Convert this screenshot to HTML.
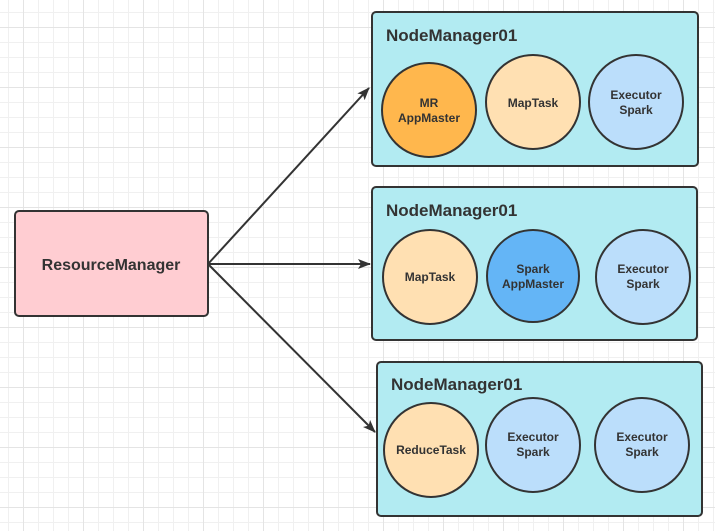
<!DOCTYPE html>
<html><head><style>
body{margin:0;width:715px;height:531px;overflow:hidden;background:#fff;
background-image:linear-gradient(#e4e4e4 1px,transparent 1px),linear-gradient(90deg,#e4e4e4 1px,transparent 1px),linear-gradient(#f0f0f0 1px,transparent 1px),linear-gradient(90deg,#f0f0f0 1px,transparent 1px);
background-size:60px 60px,60px 60px,15px 15px,15px 15px;background-position:0 27px,23px 0,0 12px,8px 0;}
text{font-family:"Liberation Sans",sans-serif;font-weight:bold;fill:#333}
</style></head><body>
<svg width="715" height="531" style="position:absolute;left:0;top:0">
<defs><marker id="a" markerWidth="13" markerHeight="10" refX="12" refY="5" orient="auto" markerUnits="userSpaceOnUse"><path d="M0,0L13,5L0,10L3,5z" fill="#333"/></marker></defs>
<g stroke="#333" stroke-width="2">
<rect x="15" y="211" width="193" height="105" rx="4" fill="#ffcdd2"/>
<rect x="372" y="12" width="326" height="154" rx="4" fill="#b2ebf2"/>
<rect x="372" y="187" width="325" height="153" rx="4" fill="#b2ebf2"/>
<rect x="377" y="362" width="325" height="154" rx="4" fill="#b2ebf2"/>
<line x1="208" y1="264" x2="369" y2="88" marker-end="url(#a)"/>
<line x1="208" y1="264" x2="370" y2="264" marker-end="url(#a)"/>
<line x1="208" y1="264" x2="375" y2="432" marker-end="url(#a)"/>
<circle cx="429" cy="110" r="47" fill="#ffb74d"/>
<circle cx="533" cy="102" r="47" fill="#ffe0b2"/>
<circle cx="636" cy="102" r="47" fill="#bbdefb"/>
<circle cx="430" cy="277" r="47" fill="#ffe0b2"/>
<circle cx="533" cy="276" r="46" fill="#64b5f6"/>
<circle cx="643" cy="277" r="47" fill="#bbdefb"/>
<circle cx="431" cy="450" r="47" fill="#ffe0b2"/>
<circle cx="533" cy="445" r="47" fill="#bbdefb"/>
<circle cx="642" cy="445" r="47" fill="#bbdefb"/>
</g>
<text x="111" y="270" font-size="16" text-anchor="middle">ResourceManager</text>
<g font-size="17"><text x="386" y="41">NodeManager01</text><text x="386" y="216">NodeManager01</text><text x="391" y="390">NodeManager01</text></g>
<g font-size="12" text-anchor="middle">
<text x="429" y="107">MR</text><text x="429" y="122">AppMaster</text>
<text x="533" y="107">MapTask</text>
<text x="636" y="99">Executor</text><text x="636" y="114">Spark</text>
<text x="430" y="281">MapTask</text>
<text x="533" y="273">Spark</text><text x="533" y="288">AppMaster</text>
<text x="643" y="273">Executor</text><text x="643" y="288">Spark</text>
<text x="431" y="454">ReduceTask</text>
<text x="533" y="441">Executor</text><text x="533" y="456">Spark</text>
<text x="642" y="441">Executor</text><text x="642" y="456">Spark</text>
</g>
</svg>
</body></html>
